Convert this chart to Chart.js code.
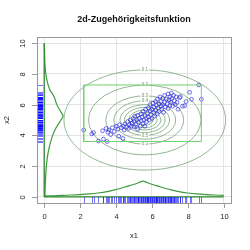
<!DOCTYPE html>
<html><head><meta charset="utf-8">
<script src="https://cdn.jsdelivr.net/npm/chart.js@4.4.0/dist/chart.umd.min.js"></script>
<style>html,body{margin:0;padding:0;background:#fff}#wrap{width:250px;height:250px}</style>
</head><body><div id="wrap"><canvas id="c" width="250" height="250"></canvas></div>
<script>
const titleText = "2d-Zugehörigkeitsfunktion";
const xLabel = "x1", yLabel = "x2";
const xTicks = [0,2,4,6,8,10];
const yTicks = [0,2,4,6,8,10];

const x1 = [2.2,2.65,2.75,3.02,3.3,3.5,3.25,3.45,3.55,3.7,3.6,3.8,3.9,4.0,4.1,4.15,4.38,4.2,4.3,4.4,4.45,4.5,4.6,4.65,4.7,4.75,4.8,4.85,4.9,4.95,5.0,5.0,5.05,5.1,5.15,5.2,5.2,5.25,5.3,5.35,5.4,5.4,5.45,5.5,5.5,5.55,5.6,5.6,5.65,5.7,5.7,5.75,5.8,5.8,5.85,5.9,5.9,5.95,6.0,6.0,6.05,6.1,6.1,6.15,6.2,6.2,6.25,6.3,6.3,6.35,6.4,6.4,6.45,6.5,6.5,6.55,6.6,6.6,6.65,6.7,6.7,6.75,6.8,6.85,6.9,6.9,6.95,7.0,7.0,7.05,7.08,7.1,7.15,7.2,7.25,7.3,7.35,7.4,7.45,7.54,7.58,7.7,7.82,7.9,8.1,8.2,8.6,8.75];
const x2 = [4.35,4.1,4.18,3.63,3.75,3.6,4.3,4.45,4.2,4.05,4.35,4.5,4.25,4.6,4.4,3.95,3.8,4.7,4.5,4.6,4.35,4.75,4.55,4.9,4.45,4.7,5.0,4.6,4.8,5.1,4.55,4.9,5.25,4.7,5.0,4.4,5.3,4.85,5.1,4.6,5.4,4.95,5.2,4.75,5.55,5.0,5.3,4.6,5.7,5.1,4.9,5.45,5.8,5.2,5.0,5.6,6.0,5.35,5.7,5.1,6.1,5.5,5.85,5.25,6.2,5.65,5.95,5.4,6.35,5.8,6.05,5.55,6.5,5.9,6.2,5.7,6.4,6.0,5.5,6.6,6.15,5.85,6.35,6.05,6.7,5.75,6.3,6.5,5.95,6.15,6.74,6.4,5.9,6.6,6.25,6.0,6.5,6.15,5.7,6.45,6.52,5.9,5.93,6.2,6.8,6.35,7.28,6.35];

// membership curve of x1 (drawn along the bottom)
const densXpos = [0,0.5,1,1.5,2,2.5,3,3.5,4,4.5,4.75,5,5.25,5.5,5.75,6,6.25,6.5,7,7.5,8,8.5,9,9.5,10];
const densXval = [0.06,0.07,0.09,0.12,0.15,0.19,0.25,0.34,0.48,0.64,0.73,0.82,0.92,1.02,0.92,0.82,0.73,0.64,0.48,0.34,0.25,0.19,0.15,0.12,0.09];
// membership curve of x2 (drawn along the left)
const densYpos = [0,0.5,1,1.5,2,2.5,3,3.5,4,4.5,4.75,5,5.25,5.5,5.75,6,6.5,7,7.5,8,8.5,9,9.5,10];
const densYval = [0.04,0.05,0.07,0.09,0.12,0.17,0.24,0.34,0.47,0.66,0.8,0.93,1.05,0.94,0.82,0.7,0.56,0.3,0.17,0.09,0.05,0.03,0.02,0.01];

// contour levels with their read-off half widths / heights
const contourCenter = [5.6, 5.0];
const contourLevels = [0.1,0.2,0.3,0.4,0.5,0.6,0.7,0.8,0.9];
const contourRx = [4.5,3.13,2.17,1.72,1.38,1.13,0.9,0.69,0.46];
const contourRy = [3.26,2.27,1.57,1.25,1.0,0.82,0.65,0.5,0.33];
const labelTop = [0.1,0.2,0.3,0.4];
const labelBottom = [0.3,0.5];

const FONT = '"Liberation Sans", Arial, sans-serif';
const minX1 = Math.min(...x1), maxX1 = Math.max(...x1), minX2 = Math.min(...x2), maxX2 = Math.max(...x2);

const pts = x1.map((v,i)=>({x:v,y:x2[i]}));
const dX = densXpos.map((v,i)=>({x:v,y:densXval[i]}));
const dY = densYpos.map((v,i)=>({x:densYval[i],y:v}));

const custom = {
  id:'custom',
  beforeDatasetsDraw(chart){
    const ctx = chart.ctx, xs = chart.scales.x, ys = chart.scales.y, a = chart.chartArea;
    ctx.save();
    ctx.beginPath(); ctx.rect(a.left,a.top,a.right-a.left,a.bottom-a.top); ctx.clip();
    const cx = xs.getPixelForValue(contourCenter[0]), cy = ys.getPixelForValue(contourCenter[1]);
    ctx.strokeStyle = 'rgba(95,150,95,0.85)'; ctx.lineWidth = 0.8;
    contourLevels.forEach((lv,i)=>{
      const rx = Math.abs(xs.getPixelForValue(contourCenter[0]+contourRx[i]) - cx);
      const ry = Math.abs(ys.getPixelForValue(contourCenter[1]+contourRy[i]) - cy);
      ctx.beginPath(); ctx.ellipse(cx,cy,rx,ry,0,0,Math.PI*2); ctx.stroke();
    });
    ctx.font = '4.5px ' + FONT; ctx.textAlign='center'; ctx.textBaseline='middle';
    const drawLab = (lv, sign)=>{
      const i = contourLevels.indexOf(lv);
      const y = ys.getPixelForValue(contourCenter[1] + sign*contourRy[i]);
      const t = String(lv); const w = ctx.measureText(t).width + 2;
      ctx.fillStyle = '#fff'; ctx.fillRect(cx - w/2, y-2.5, w, 5);
      ctx.fillStyle = 'rgba(95,150,95,1)'; ctx.fillText(t, cx, y);
    };
    labelTop.forEach(l=>drawLab(l, 1));
    labelBottom.forEach(l=>drawLab(l, -1));
    ctx.restore();
  },
  afterDatasetsDraw(chart){
    const ctx = chart.ctx, xs = chart.scales.x, ys = chart.scales.y, a = chart.chartArea;
    ctx.save();
    ctx.strokeStyle = 'rgba(0,0,255,0.55)'; ctx.lineWidth = 1;
    x1.forEach(v=>{ const px = Math.round(xs.getPixelForValue(v))+0.5; ctx.beginPath(); ctx.moveTo(px,a.bottom); ctx.lineTo(px,a.bottom-6); ctx.stroke(); });
    x2.forEach(v=>{ const py = Math.round(ys.getPixelForValue(v))+0.5; ctx.beginPath(); ctx.moveTo(a.left,py); ctx.lineTo(a.left+6,py); ctx.stroke(); });
    ctx.restore();
  },
  afterDraw(chart){
    const ctx = chart.ctx, xs = chart.scales.x, ys = chart.scales.y, a = chart.chartArea;
    ctx.save();
    ctx.strokeStyle = '#999'; ctx.lineWidth = 1;
    ctx.strokeRect(Math.round(a.left)+0.5, Math.round(a.top)+0.5, Math.round(a.right-a.left), Math.round(a.bottom-a.top));
    ctx.fillStyle = '#222'; ctx.font = '7.5px ' + FONT;
    ctx.textAlign='center'; ctx.textBaseline='middle';
    xTicks.forEach(v=>{ const px = Math.round(xs.getPixelForValue(v))+0.5;
      ctx.beginPath(); ctx.moveTo(px,a.bottom); ctx.lineTo(px,a.bottom+5); ctx.stroke();
      ctx.fillText(String(v), px, 217); });
    yTicks.forEach(v=>{ const py = Math.round(ys.getPixelForValue(v))+0.5;
      ctx.beginPath(); ctx.moveTo(a.left,py); ctx.lineTo(a.left-5,py); ctx.stroke();
      ctx.save(); ctx.translate(23,py); ctx.rotate(-Math.PI/2); ctx.fillText(String(v),0,0); ctx.restore(); });
    ctx.fillText(xLabel, (a.left+a.right)/2, 236);
    ctx.save(); ctx.translate(7,(a.top+a.bottom)/2); ctx.rotate(-Math.PI/2); ctx.fillText(yLabel,0,0); ctx.restore();
    ctx.font = 'bold 9px ' + FONT; ctx.fillStyle = '#111';
    ctx.fillText(titleText, (a.left+a.right)/2, 20);
    ctx.restore();
  }
};

new Chart(document.getElementById('c'), {
  type:'scatter',
  data:{ datasets:[
    {data:[{x:minX1,y:minX2},{x:maxX1,y:minX2},{x:maxX1,y:maxX2},{x:minX1,y:maxX2},{x:minX1,y:minX2}], showLine:true, pointRadius:0, borderColor:'#6fd46f', borderWidth:1, fill:false},
    {data:pts, pointRadius:1.9, pointBorderWidth:0.8, pointBackgroundColor:'rgba(0,0,0,0)', pointBorderColor:'rgba(45,45,225,0.85)', showLine:false},
    {data:[{x:0,y:0},{x:10,y:0}], showLine:true, pointRadius:0, borderColor:'#2b8a2b', borderWidth:1.3},
    {data:[{x:0,y:0},{x:0,y:10}], showLine:true, pointRadius:0, borderColor:'#2b8a2b', borderWidth:1.3},
    {data:dX, showLine:true, pointRadius:0, borderColor:'#3d9a3d', borderWidth:1.2, tension:0.3},
    {data:dY, showLine:true, pointRadius:0, borderColor:'#3d9a3d', borderWidth:1.2, tension:0.3}
  ]},
  options:{
    responsive:false, animation:false, devicePixelRatio:1,
    layout:{padding:{left:0,right:19,top:37,bottom:0}},
    plugins:{legend:{display:false}, tooltip:{enabled:false}, title:{display:false}},
    scales:{
      x:{type:'linear', min:-0.4, max:10.4, afterFit(s){s.height=47;},
         afterBuildTicks(s){s.ticks = xTicks.map(v=>({value:v}));},
         ticks:{display:false}, border:{display:false}, grid:{color:'#e4e4e4', drawTicks:false, lineWidth:1}},
      y:{type:'linear', min:-0.4, max:10.4, afterFit(s){s.width=37;},
         afterBuildTicks(s){s.ticks = yTicks.map(v=>({value:v}));},
         ticks:{display:false}, border:{display:false}, grid:{color:'#e4e4e4', drawTicks:false, lineWidth:1}}
    }
  },
  plugins:[custom]
});
</script></body></html>
